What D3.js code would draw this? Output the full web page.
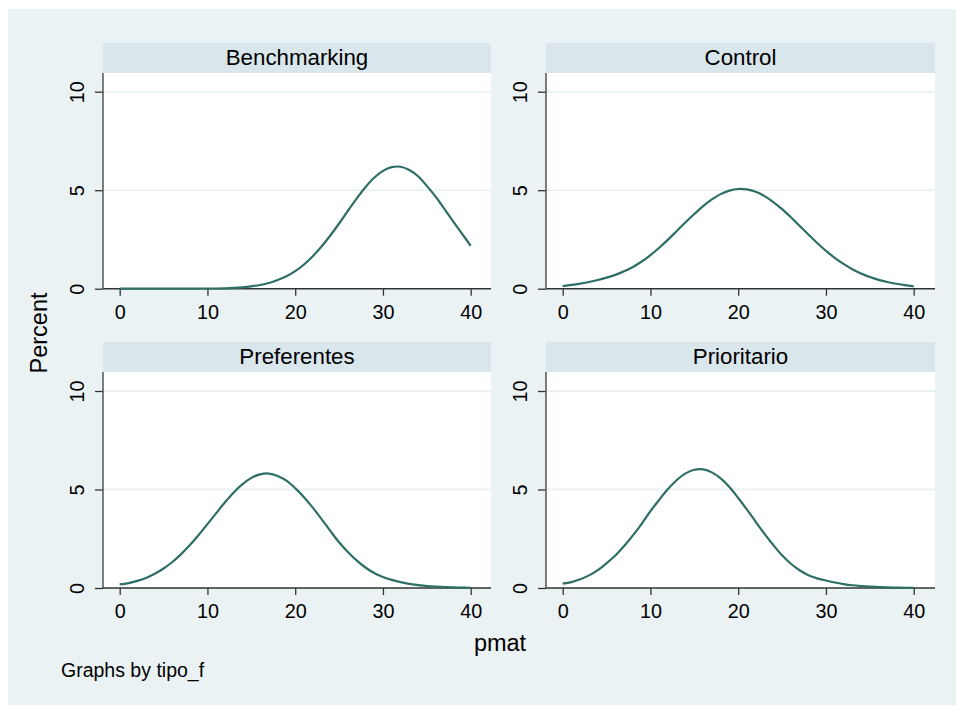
<!DOCTYPE html>
<html>
<head>
<meta charset="utf-8">
<script src="https://cdn.jsdelivr.net/npm/d3@7"></script>
<style>
  html, body { margin: 0; padding: 0; background: #ffffff; }
  svg { display: block; }
  text { font-family: Arial, "Liberation Sans", Helvetica, sans-serif; fill: #000; }
</style>
</head>
<body>
<svg id="chart" width="956" height="705"></svg>
<script>
// ---------- data ----------
const panels = ["Benchmarking", "Control", "Preferentes", "Prioritario"];
const pmat = d3.range(0, 41); // 0..40 grid of evaluation points
const benchmarking = [0.00,0.00,0.00,0.00,0.00,0.00,0.00,0.00,0.00,0.01,0.01,0.01,
  0.02,0.04,0.07,0.12,0.19,0.29,0.44,0.63,0.89,1.23,1.65,2.14,2.70,3.31,3.95,4.57,
  5.15,5.63,5.98,6.17,6.19,6.03,5.71,5.22,4.67,4.05,3.42,2.80,2.18];
const control = [0.13,0.19,0.26,0.34,0.44,0.56,0.70,0.88,1.10,1.38,1.71,2.08,2.49,
  2.93,3.37,3.79,4.19,4.53,4.80,4.98,5.06,5.04,4.92,4.70,4.40,4.04,3.63,3.19,2.75,
  2.32,1.92,1.57,1.26,0.99,0.77,0.59,0.45,0.34,0.25,0.18,0.12];
const preferentes = [0.18,0.25,0.36,0.51,0.72,0.99,1.32,1.72,2.18,2.69,3.24,3.80,
  4.35,4.85,5.27,5.59,5.77,5.81,5.69,5.45,5.07,4.61,4.08,3.50,2.90,2.32,1.83,1.40,
  1.04,0.76,0.56,0.41,0.30,0.21,0.15,0.10,0.07,0.05,0.03,0.02,0.01];
const prioritario = [0.22,0.30,0.44,0.64,0.91,1.26,1.65,2.13,2.67,3.26,3.90,4.48,
  5.02,5.48,5.82,6.00,6.02,5.87,5.56,5.13,4.57,3.98,3.36,2.75,2.18,1.66,1.23,0.90,
  0.65,0.49,0.38,0.28,0.20,0.14,0.10,0.07,0.05,0.03,0.02,0.01,0.01];
const series = [benchmarking, control, preferentes, prioritario];
const xTicks = [0, 10, 20, 30, 40];
const yTicks = [0, 5, 10];
const yGrid = [5, 10];
const xTitle = "pmat";
const yTitle = "Percent";
const note = "Graphs by tipo_f";

// ---------- layout ----------
const svg = d3.select("#chart");
const W = 956, H = 705;
const colBg = "#eaf2f3", colStrip = "#d9e6eb", colLine = "#2d6e65";

svg.append("rect").attr("x", 8).attr("y", 9).attr("width", W - 8).attr("height", H - 9)
  .attr("fill", colBg);

const cols = [{L: 103, R: 491}, {L: 546, R: 935}];
const rows = [{stripTop: 43, top: 73, zero: 288.7, ten: 91.7},
              {stripTop: 342, top: 372, zero: 588, ten: 391}];

panels.forEach((name, i) => {
  const c = cols[i % 2], r = rows[Math.floor(i / 2)];
  const x = d3.scaleLinear().domain([0, 40]).range([c.L + 16.7, c.L + 367.7]);
  const y = d3.scaleLinear().domain([0, 10]).range([r.zero, r.ten]);
  const g = svg.append("g");

  // strip
  g.append("rect").attr("x", c.L).attr("y", r.stripTop).attr("width", c.R - c.L)
    .attr("height", r.top - r.stripTop).attr("fill", colStrip);
  g.append("text").attr("x", (c.L + c.R) / 2).attr("y", r.stripTop + 21.5)
    .attr("text-anchor", "middle").style("font-size", "22.3px").text(name);

  // plot region
  g.append("rect").attr("x", c.L).attr("y", r.top).attr("width", c.R - c.L)
    .attr("height", r.zero - r.top).attr("fill", "#ffffff");

  // grid
  g.selectAll(".grid").data(yGrid).enter().append("line")
    .attr("x1", c.L).attr("x2", c.R).attr("y1", d => y(d)).attr("y2", d => y(d))
    .attr("stroke", colBg).attr("stroke-width", 2);

  // y axis
  const yAxis = d3.axisLeft(y).tickValues(yTicks).tickSize(8).tickPadding(0).tickFormat(d3.format("d"));
  const ya = g.append("g").attr("transform", `translate(${c.L},0)`).call(yAxis);
  ya.select(".domain").remove();
  ya.append("line").attr("x1", 0).attr("x2", 0).attr("y1", r.top).attr("y2", r.zero)
    .attr("stroke", "#555").attr("stroke-width", 1.5);
  ya.selectAll(".tick line").attr("stroke", "#333").attr("stroke-width", 1.3);
  ya.selectAll(".tick text")
    .attr("x", null).attr("dy", null)
    .attr("text-anchor", "middle")
    .attr("transform", "translate(-19.5,0) rotate(-90)")
    .attr("dy", "0em")
    .attr("y", 0)
    .style("font-size", "19.8px")
    .style("fill", "#000")
    .attr("font-family", null);

  // x axis
  const xAxis = d3.axisBottom(x).tickValues(xTicks).tickSize(7).tickPadding(9).tickFormat(d3.format("d"));
  const xa = g.append("g").attr("transform", `translate(0,${r.zero})`).call(xAxis);
  xa.select(".domain").remove();
  xa.append("line").attr("x1", c.L).attr("x2", c.R).attr("y1", 0).attr("y2", 0)
    .attr("stroke", "#333").attr("stroke-width", 1.5);
  xa.selectAll(".tick line").attr("stroke", "#333").attr("stroke-width", 1.3);
  xa.selectAll(".tick text").style("font-size", "19.8px").style("fill", "#000").attr("font-family", null);

  // curve
  const line = d3.line().x((d, k) => x(pmat[k])).y(d => y(d)).curve(d3.curveCatmullRom);
  g.append("path").datum(series[i]).attr("d", line).attr("fill", "none")
    .attr("stroke", colLine).attr("stroke-width", 2.2).attr("stroke-linejoin", "round");
});

// titles
svg.append("text").attr("transform", "translate(47,333) rotate(-90)")
  .attr("text-anchor", "middle").style("font-size", "23.5px").text(yTitle);
svg.append("text").attr("x", 500).attr("y", 651).attr("text-anchor", "middle")
  .style("font-size", "23.5px").text(xTitle);
svg.append("text").attr("x", 61).attr("y", 677).style("font-size", "19.5px").text(note);
</script>
</body>
</html>
